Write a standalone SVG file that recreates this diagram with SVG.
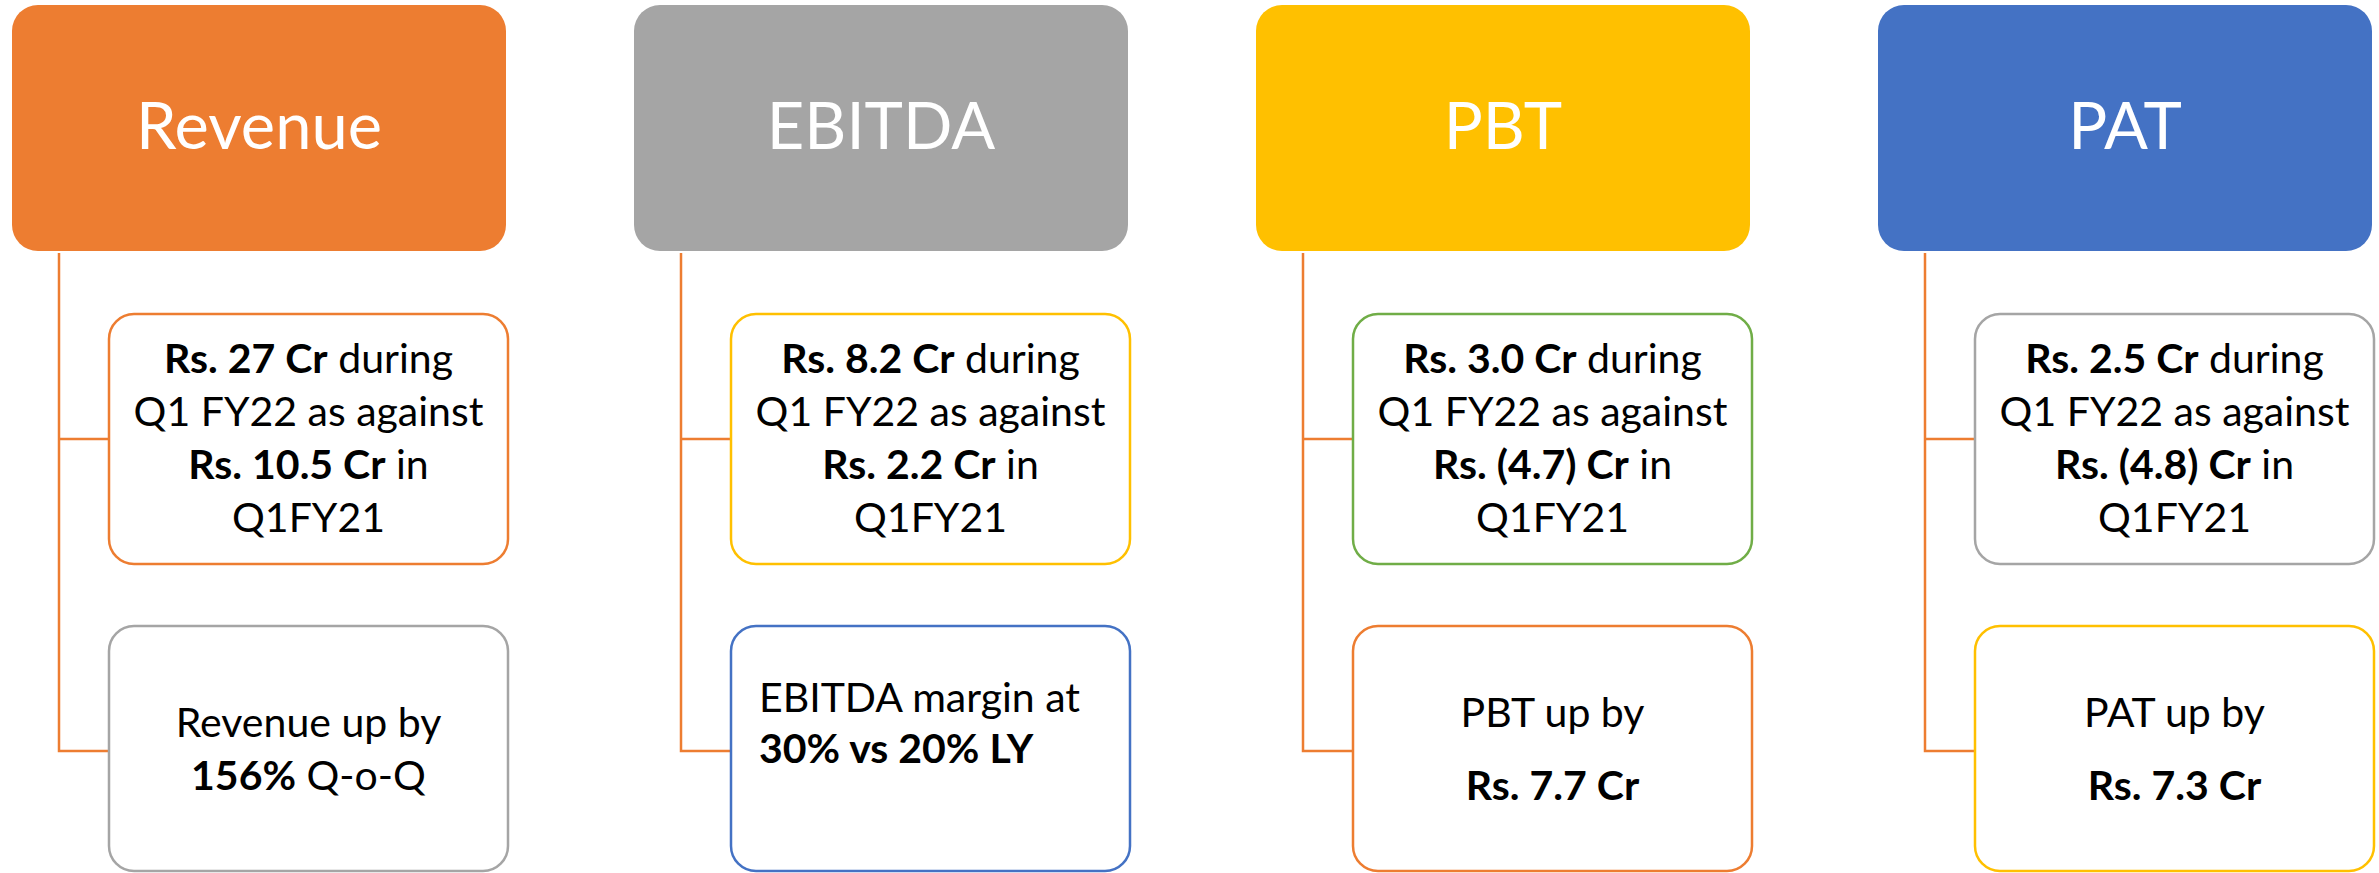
<svg xmlns="http://www.w3.org/2000/svg" width="2379" height="873" viewBox="0 0 2379 873">
<style>
.hdr{stroke:none}
.box{fill:#FFFFFF;stroke-width:2.5}
.conn{fill:none;stroke:#ED7D31;stroke-width:2.5}
.ht{font-family:Lato,"Open Sans",sans-serif;font-weight:normal;font-size:65px;fill:#FFFFFF;text-anchor:middle}
.bt{font-family:Lato,"Open Sans",sans-serif;font-size:41px;fill:#000000;text-anchor:middle}
.lt{text-anchor:start}
.b{font-weight:bold}
</style>
<rect width="2379" height="873" fill="#FFFFFF"/>
<g id="connectors">
<path class="conn" d="M59,253 V751 H109 M59,439 H109"/>
<path class="conn" d="M681,253 V751 H731 M681,439 H731"/>
<path class="conn" d="M1303,253 V751 H1353 M1303,439 H1353"/>
<path class="conn" d="M1925,253 V751 H1975 M1925,439 H1975"/>
</g>
<g id="revenue">
<rect class="hdr" x="12" y="5" width="494" height="246" rx="26" fill="#ED7D31"/>
<text class="ht" x="259" y="149">Revenue</text>
</g>
<g id="revenue-value">
<rect class="box" x="109" y="314" width="399" height="250" rx="25" stroke="#ED7D31"/>
<text class="bt" x="308.5" y="373"><tspan class="b">Rs. 27 Cr</tspan> during</text>
<text class="bt" x="308.5" y="426">Q1 FY22 as against</text>
<text class="bt" x="308.5" y="479"><tspan class="b">Rs. 10.5 Cr</tspan> in</text>
<text class="bt" x="308.5" y="532">Q1FY21</text>
</g>
<g id="revenue-growth">
<rect class="box" x="109" y="626" width="399" height="245" rx="25" stroke="#A5A5A5"/>
<text class="bt" x="308.5" y="737">Revenue up by</text>
<text class="bt" x="308.5" y="790"><tspan class="b">156%</tspan> Q-o-Q</text>
</g>
<g id="ebitda">
<rect class="hdr" x="634" y="5" width="494" height="246" rx="26" fill="#A5A5A5"/>
<text class="ht" x="881" y="149">EBITDA</text>
</g>
<g id="ebitda-value">
<rect class="box" x="731" y="314" width="399" height="250" rx="25" stroke="#FFC000"/>
<text class="bt" x="930.5" y="373"><tspan class="b">Rs. 8.2 Cr</tspan> during</text>
<text class="bt" x="930.5" y="426">Q1 FY22 as against</text>
<text class="bt" x="930.5" y="479"><tspan class="b">Rs. 2.2 Cr</tspan> in</text>
<text class="bt" x="930.5" y="532">Q1FY21</text>
</g>
<g id="ebitda-margin">
<rect class="box" x="731" y="626" width="399" height="245" rx="25" stroke="#4472C4"/>
<text class="bt lt" x="759" y="712">EBITDA margin at</text>
<text class="bt lt" x="759" y="763"><tspan class="b">30% vs 20% LY</tspan></text>
</g>
<g id="pbt">
<rect class="hdr" x="1256" y="5" width="494" height="246" rx="26" fill="#FFC000"/>
<text class="ht" x="1503" y="149">PBT</text>
</g>
<g id="pbt-value">
<rect class="box" x="1353" y="314" width="399" height="250" rx="25" stroke="#70AD47"/>
<text class="bt" x="1552.5" y="373"><tspan class="b">Rs. 3.0 Cr</tspan> during</text>
<text class="bt" x="1552.5" y="426">Q1 FY22 as against</text>
<text class="bt" x="1552.5" y="479"><tspan class="b">Rs. (4.7) Cr</tspan> in</text>
<text class="bt" x="1552.5" y="532">Q1FY21</text>
</g>
<g id="pbt-growth">
<rect class="box" x="1353" y="626" width="399" height="245" rx="25" stroke="#ED7D31"/>
<text class="bt" x="1552.5" y="727">PBT up by</text>
<text class="bt" x="1552.5" y="800"><tspan class="b">Rs. 7.7 Cr</tspan></text>
</g>
<g id="pat">
<rect class="hdr" x="1878" y="5" width="494" height="246" rx="26" fill="#4472C4"/>
<text class="ht" x="2125" y="149">PAT</text>
</g>
<g id="pat-value">
<rect class="box" x="1975" y="314" width="399" height="250" rx="25" stroke="#A5A5A5"/>
<text class="bt" x="2174.5" y="373"><tspan class="b">Rs. 2.5 Cr</tspan> during</text>
<text class="bt" x="2174.5" y="426">Q1 FY22 as against</text>
<text class="bt" x="2174.5" y="479"><tspan class="b">Rs. (4.8) Cr</tspan> in</text>
<text class="bt" x="2174.5" y="532">Q1FY21</text>
</g>
<g id="pat-growth">
<rect class="box" x="1975" y="626" width="399" height="245" rx="25" stroke="#FFC000"/>
<text class="bt" x="2174.5" y="727">PAT up by</text>
<text class="bt" x="2174.5" y="800"><tspan class="b">Rs. 7.3 Cr</tspan></text>
</g>
</svg>
